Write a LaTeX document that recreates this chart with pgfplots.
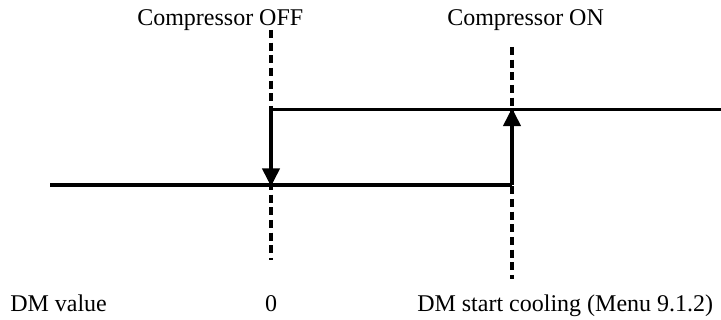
\documentclass[border=0pt]{standalone}
\usepackage{fontspec}
\setmainfont{Liberation Serif}
\usepackage{pgfplots}
\pgfplotsset{compat=1.18}
\usetikzlibrary{arrows.meta}
\begin{document}
\begin{tikzpicture}
\begin{axis}[
  scale only axis,
  width=540.75pt, height=240pt,
  xmin=0, xmax=721, ymin=0, ymax=320,
  y dir=reverse,
  hide axis,
  clip=false,
]
% dashed guide lines
\addplot[black, line width=2.3pt, dash pattern=on 6pt off 3.5pt] coordinates {(271,30) (271,260)};
\addplot[black, line width=2.3pt, dash pattern=on 6pt off 3.5pt] coordinates {(512,47) (512,279)};
% hysteresis lines
\addplot[black, line width=2.6pt] coordinates {(50,185) (512,185)};
\addplot[black, line width=2.6pt] coordinates {(271,109.5) (721,109.5)};
\addplot[black, line width=2.6pt, -{Triangle[length=13.5pt,width=13pt]}, shorten >=-1pt] coordinates {(271,109.5) (271,185)};
\addplot[black, line width=2.6pt, -{Triangle[length=13.5pt,width=13pt]}, shorten >=-1pt] coordinates {(512,185) (512,109.5)};
% labels
\node[anchor=base west, inner sep=0pt, font=\fontsize{18}{21}\selectfont] at (axis cs:137,26) {Compressor OFF};
\node[anchor=base west, inner sep=0pt, font=\fontsize{18}{21}\selectfont] at (axis cs:447,26) {Compressor ON};
\node[anchor=base west, inner sep=0pt, font=\fontsize{18}{21}\selectfont] at (axis cs:10,311.5) {DM value};
\node[anchor=base, inner sep=0pt, font=\fontsize{18}{21}\selectfont] at (axis cs:271,311.5) {0};
\node[anchor=base west, inner sep=0pt, font=\fontsize{18}{21}\selectfont] at (axis cs:417,311.5) {DM start cooling (Menu 9.1.2)};
\end{axis}
\pgfresetboundingbox
\path (current axis.south west) rectangle (current axis.north east);
\end{tikzpicture}
\end{document}
